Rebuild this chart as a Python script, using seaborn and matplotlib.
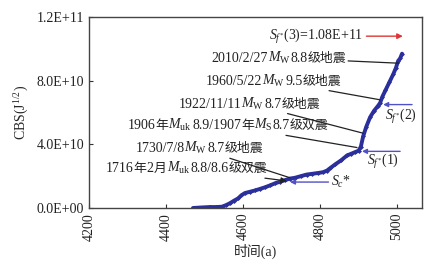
import matplotlib
matplotlib.use("Agg")
import matplotlib.pyplot as plt
import seaborn as sns
import pandas as pd
from matplotlib.offsetbox import TextArea, HPacker, AnnotationBbox

# ---- data ----
years = [4470, 4490, 4514, 4530, 4545, 4556, 4566, 4576, 4587, 4596, 4605, 4618,
         4631, 4644, 4657, 4670, 4683, 4696, 4709, 4722, 4735, 4750, 4765, 4780,
         4795, 4808, 4818, 4826, 4840, 4855, 4870, 4880, 4890, 4900, 4906, 4912,
         4920, 4930, 4940, 4950, 4956, 4962, 4970, 4980, 4990, 4997, 5003, 5008, 5013]
cbs_e10 = [0.0, 0.03, 0.06, 0.06, 0.08, 0.18, 0.3, 0.45, 0.6, 0.8, 0.94, 1.02,
           1.1, 1.2, 1.3, 1.42, 1.55, 1.65, 1.75, 1.85, 1.9, 2.0, 2.1, 2.15,
           2.2, 2.25, 2.35, 2.5, 2.75, 3.0, 3.3, 3.4, 3.5, 3.6, 3.85, 4.5,
           5.1, 5.7, 6.1, 6.4, 6.6, 7.0, 7.4, 7.9, 8.4, 8.8, 9.25, 9.4, 9.7]
x_ticks = [4200, 4400, 4600, 4800, 5000]
y_ticks = [0.0, 4.0e10, 8.0e10, 1.2e11]
y_tick_labels = ["0.0E+00", "4.0E+10", "8.0E+10", "1.2E+11"]

df = pd.DataFrame({"year": years, "cbs": [v * 1e10 for v in cbs_e10]})

sns.set_style("ticks")
FAM = ["Liberation Serif", "Noto Sans CJK SC"]
plt.rcParams["font.family"] = FAM
plt.rcParams["mathtext.fontset"] = "custom"
plt.rcParams["mathtext.rm"] = "Liberation Serif"
plt.rcParams["mathtext.it"] = "Liberation Serif:italic"
plt.rcParams["mathtext.cal"] = "Liberation Serif:italic"
plt.rcParams["axes.unicode_minus"] = False

fig = plt.figure(figsize=(4.32, 2.71), dpi=100)
ax = fig.add_axes([0.206, 0.2325, 0.771, 0.7045])

sns.lineplot(data=df, x="year", y="cbs", ax=ax, color="#2b2f9c", lw=2.8,
             marker="D", markersize=2.5, markeredgewidth=0)

ax.set_xlim(4200, 5065)
ax.set_ylim(0, 1.2e11)
ax.set_xticks(x_ticks)
ax.set_xticklabels([str(t) for t in x_ticks], rotation=90, fontsize=10)
ax.set_yticks(y_ticks)
ax.set_yticklabels(y_tick_labels, fontsize=10)
ax.tick_params(direction="in", length=3, width=0.8, colors="#333333", labelcolor="#222222")
for s in ax.spines.values():
    s.set_visible(True)
    s.set_color("#444444")
    s.set_linewidth(1.0)
ax.set_xlabel("时间(a)", fontsize=10, labelpad=2)
ax.set_ylabel(r"CBS(J$^{1/2}$)", fontsize=10, labelpad=4)

fs = 10
fs_cjk = 9.3
TXT = "#222222"
leader = dict(arrowstyle="-", color="#222222", lw=0.9, shrinkA=0, shrinkB=0)
blue = dict(arrowstyle="-|>", color="#5050c8", lw=1.0, mutation_scale=7, shrinkA=0, shrinkB=0)


def is_cjk(c):
    return ord(c) > 0x2E80


def split_runs(s):
    runs = []
    for c in s:
        k = is_cjk(c)
        if runs and runs[-1][1] == k:
            runs[-1][0] += c
        else:
            runs.append([c, k])
    return runs


def rich(pieces):
    areas = []
    for p in pieces:
        if p.startswith("$"):
            areas.append(TextArea(p, textprops=dict(fontsize=fs, color=TXT,
                                                    family="Liberation Serif")))
            continue
        for txt, cjk in split_runs(p):
            if cjk:
                props = dict(fontsize=fs_cjk, color=TXT, family="Noto Sans CJK SC")
            else:
                props = dict(fontsize=fs, color=TXT, family="Liberation Serif")
            areas.append(TextArea(txt, textprops=props))
    return HPacker(children=areas, pad=0, sep=0, align="baseline")


def label(pieces, xy, xytext, arrowprops):
    ab = AnnotationBbox(rich(pieces), xy, xybox=xytext, xycoords="data",
                        boxcoords="data", box_alignment=(1, 0.5), frameon=False,
                        pad=0.1, arrowprops=arrowprops)
    ax.add_artist(ab)


ax.annotate(r"$S_{f^{*}}$(3)=1.08E+11", xy=(5015, 1.08e11), xytext=(4912, 1.08e11),
            ha="right", va="center", fontsize=fs, color=TXT,
            arrowprops=dict(arrowstyle="-|>", color="#e03535", lw=1.0, mutation_scale=8,
                            shrinkA=0, shrinkB=0))
label(["2010/2/27", r"$M_{\mathrm{W}}$", "8.8级地震"], (5005, 9.1e10), (4868, 9.44e10), leader)
label(["1960/5/22", r"$M_{\mathrm{W}}$", "9.5级地震"], (4956, 6.8e10), (4855, 8.0e10), leader)
label(["1922/11/11", r"$M_{\mathrm{W}}$", "8.7级地震"], (4912, 4.7e10), (4800, 6.56e10), leader)
label(["1906年", r"$M_{\mathrm{uk}}$", "8.9/1907年", r"$M_{\mathrm{S}}$", "8.7级双震"],
      (4896, 3.8e10), (4821, 5.19e10), leader)
label(["1730/7/8", r"$M_{\mathrm{W}}$", "8.7级地震"], (4722, 1.9e10), (4652, 3.75e10), leader)
label(["1716年2月", r"$M_{\mathrm{uk}}$", "8.8/8.6级双震"], (4714, 1.7e10), (4662, 2.5e10),
      dict(arrowstyle="-|>", color="#222222", lw=0.9, mutation_scale=6, shrinkA=0, shrinkB=0))

ax.annotate("", xy=(4722, 1.63e10), xytext=(4822, 1.63e10), arrowprops=blue)
ax.text(4828, 1.63e10, r"$S_{c}$*", ha="left", va="center", fontsize=fs, color=TXT)
ax.annotate("", xy=(4909, 3.56e10), xytext=(5008, 3.56e10), arrowprops=blue)
ax.text(4922, 2.9e10, r"$S_{f^{*}}$(1)", ha="left", va="center", fontsize=fs, color=TXT)
ax.annotate("", xy=(4964, 6.5e10), xytext=(5039, 6.5e10), arrowprops=blue)
ax.text(4969, 5.75e10, r"$S_{f^{*}}$(2)", ha="left", va="center", fontsize=fs, color=TXT)

fig.savefig("out.png", dpi=100)
